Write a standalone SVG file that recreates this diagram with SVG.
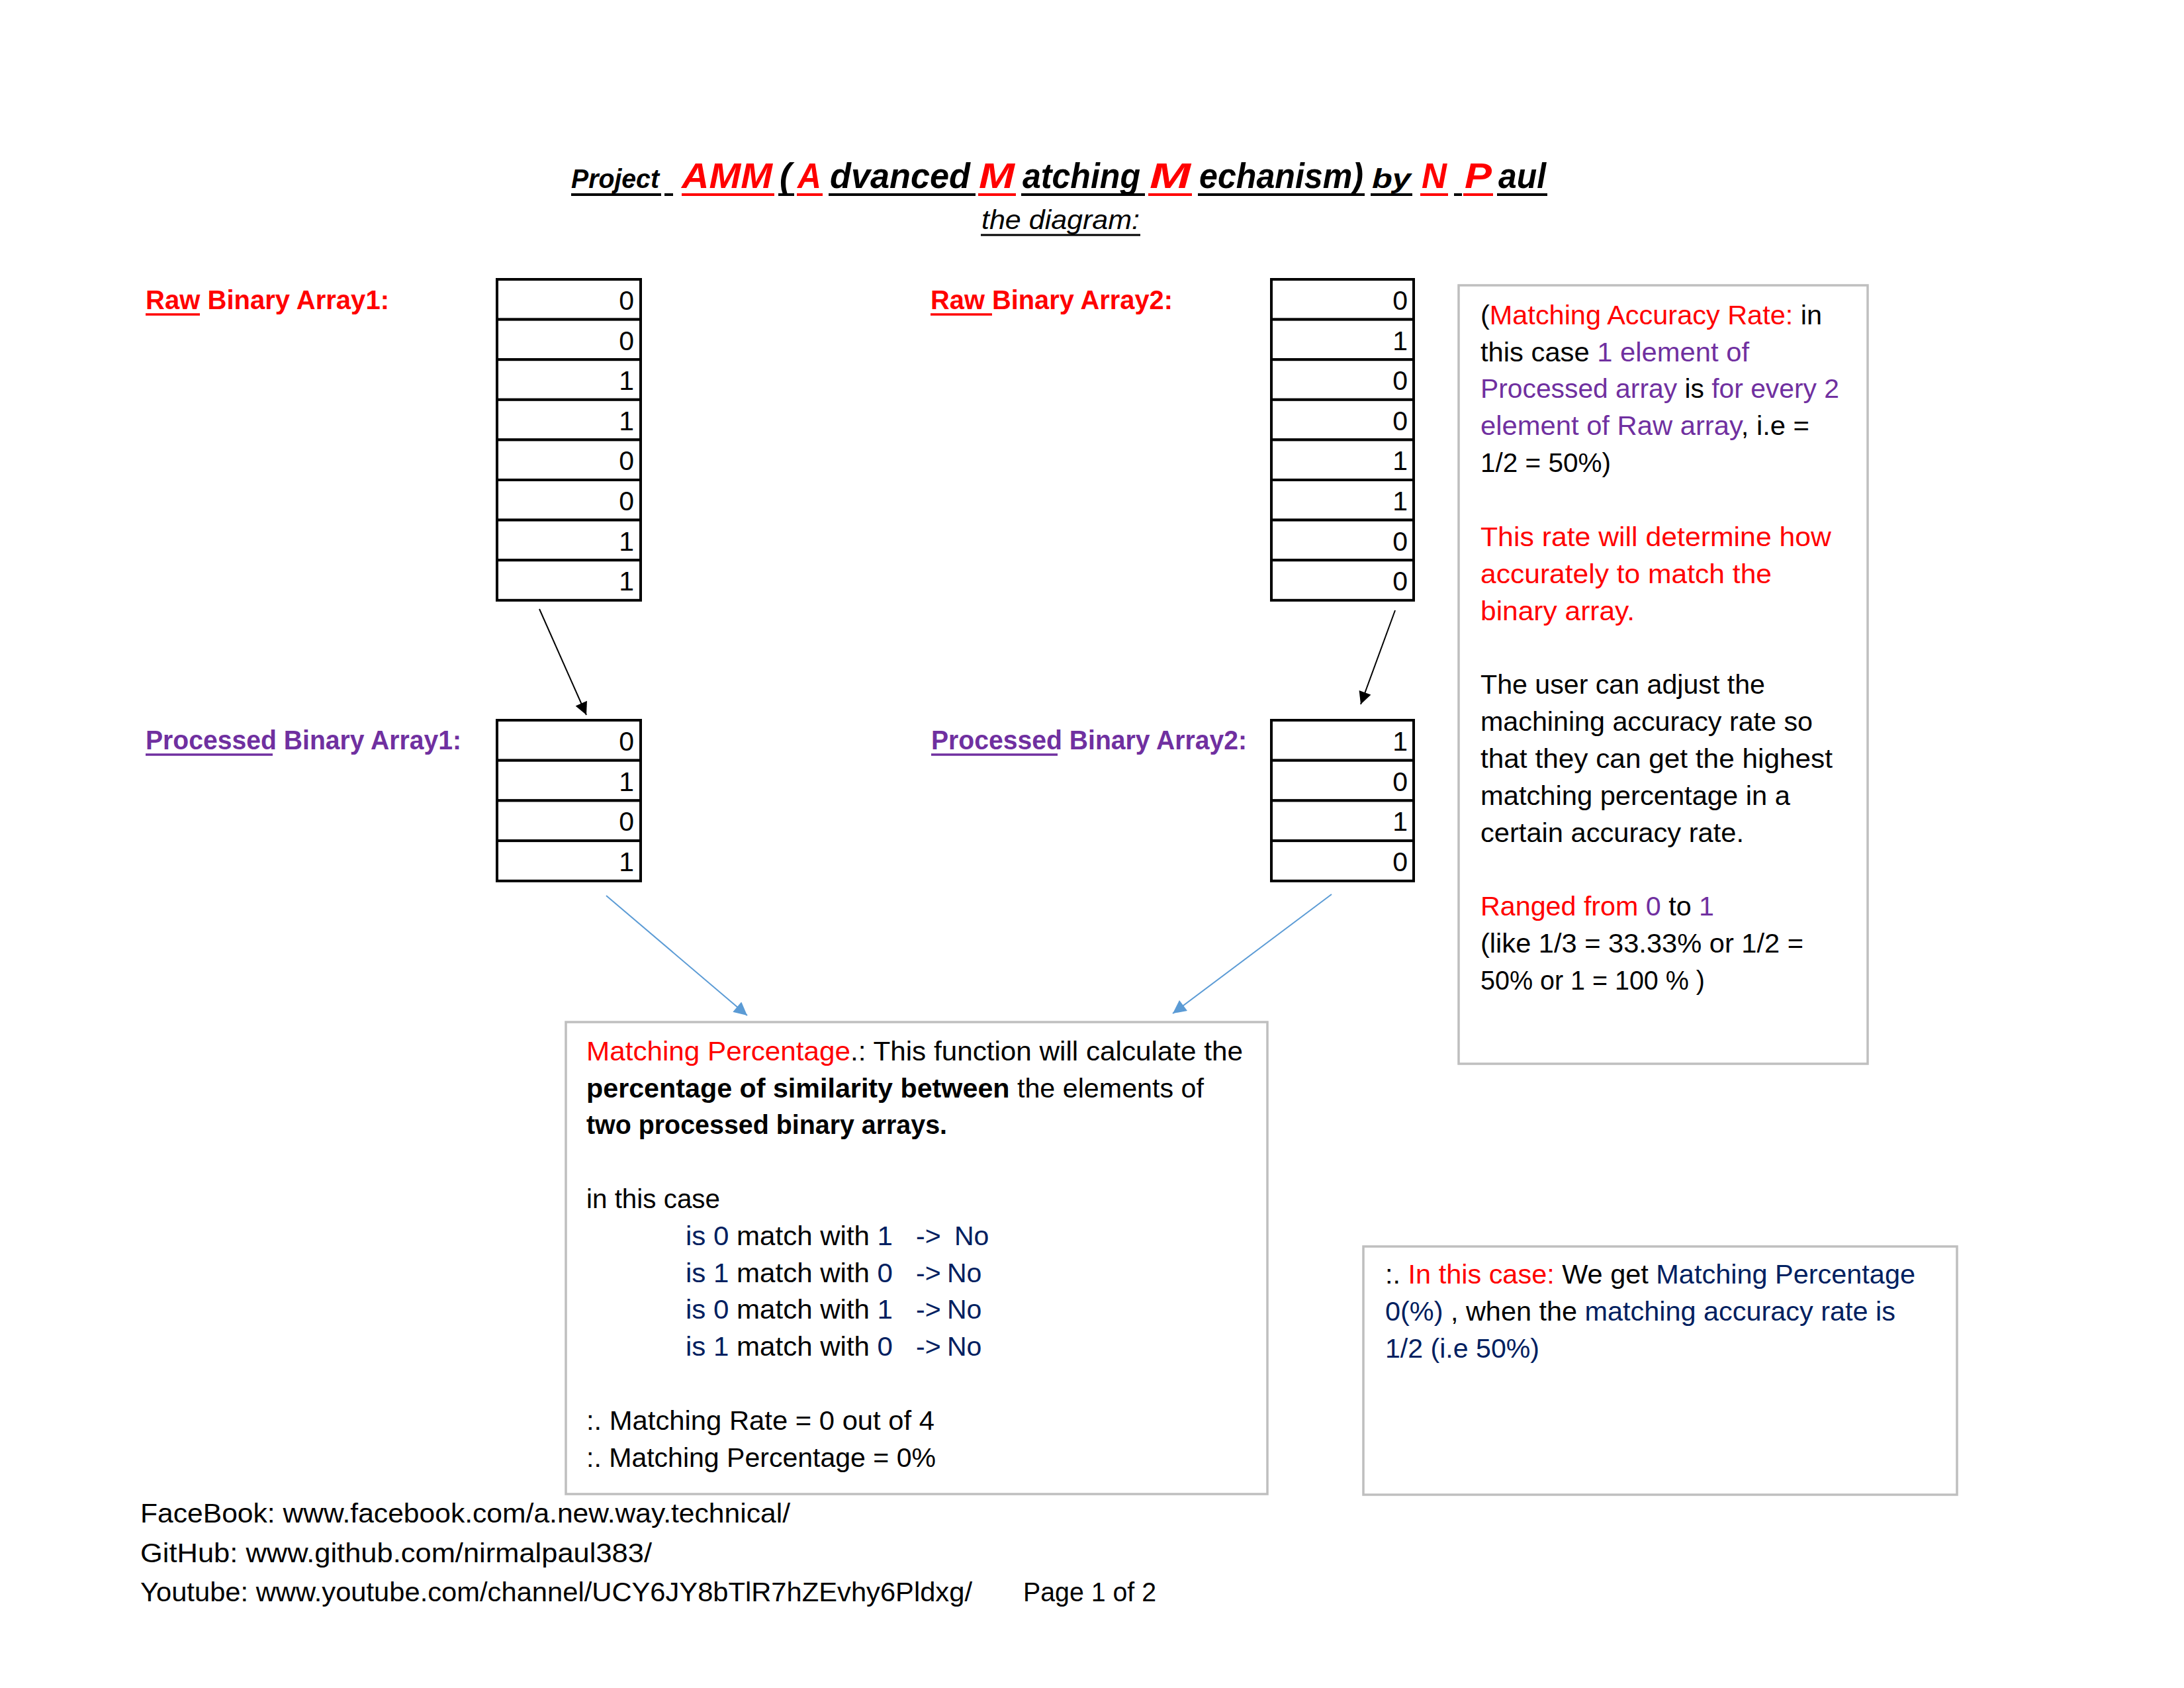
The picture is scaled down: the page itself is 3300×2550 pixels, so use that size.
<svg xmlns="http://www.w3.org/2000/svg" width="3300" height="2550" viewBox="0 0 3300 2550">
<defs>
<style>
text{font-family:"Liberation Sans",Arial,sans-serif;font-size:41px;fill:#000}
.tb{font-size:53px;font-weight:bold;font-style:italic}
.ts{font-size:41px;font-weight:bold;font-style:italic}
.b{font-weight:bold}
.red{fill:#FF0000}
.pur{fill:#7030A0}
.dk{fill:#002060}
.cell{fill:#fff;stroke:#000;stroke-width:4}
.num{text-anchor:end}
.gbox{fill:#fff;stroke:#BFBFBF;stroke-width:3.5}
.ul{stroke-width:4}
.conn{fill:none;stroke-width:2}
</style>
<marker id="ahk" viewBox="0 0 10 10" refX="10" refY="5" markerWidth="26" markerHeight="19" markerUnits="userSpaceOnUse" orient="auto"><path d="M0,0 L10,5 L0,10 z" fill="#000"/></marker>
<marker id="ahb" viewBox="0 0 10 10" refX="10" refY="5" markerWidth="24" markerHeight="20" markerUnits="userSpaceOnUse" orient="auto"><path d="M0,0 L10,5 L0,10 z" fill="#5B9BD5"/></marker>
</defs>
<rect width="3300" height="2550" fill="#fff"/>

<g id="title">
<text class="ts" x="863" y="284" textLength="133" lengthAdjust="spacingAndGlyphs">Project</text>
<text class="tb red" x="1030" y="284" textLength="137" lengthAdjust="spacingAndGlyphs">AMM</text>
<text class="tb" x="1178" y="284">(</text>
<text class="tb red" x="1205" y="284" textLength="36" lengthAdjust="spacingAndGlyphs">A</text>
<text class="tb" x="1254" y="284" textLength="212" lengthAdjust="spacingAndGlyphs">dvanced</text>
<text class="tb red" x="1479" y="284" textLength="54" lengthAdjust="spacingAndGlyphs">M</text>
<text class="tb" x="1545" y="284" textLength="178" lengthAdjust="spacingAndGlyphs">atching</text>
<text class="tb red" x="1737" y="284" textLength="62" lengthAdjust="spacingAndGlyphs">M</text>
<text class="tb" x="1812" y="284" textLength="248" lengthAdjust="spacingAndGlyphs">echanism)</text>
<text class="ts" x="2073" y="284" textLength="59" lengthAdjust="spacingAndGlyphs">by</text>
<text class="tb red" x="2148" y="284" textLength="38" lengthAdjust="spacingAndGlyphs">N</text>
<text class="tb red" x="2213" y="284" textLength="41" lengthAdjust="spacingAndGlyphs">P</text>
<text class="tb" x="2264" y="284" textLength="72" lengthAdjust="spacingAndGlyphs">aul</text>
<g class="ul">
<line x1="863" y1="294" x2="999" y2="294" stroke="#000"/>
<line x1="1004" y1="294" x2="1017" y2="294" stroke="#000"/>
<line x1="1030" y1="294" x2="1170" y2="294" stroke="#FF0000"/>
<line x1="1176" y1="294" x2="1200" y2="294" stroke="#000"/>
<line x1="1204" y1="294" x2="1243" y2="294" stroke="#FF0000"/>
<line x1="1252" y1="294" x2="1474" y2="294" stroke="#000"/>
<line x1="1478" y1="294" x2="1535" y2="294" stroke="#FF0000"/>
<line x1="1543" y1="294" x2="1730" y2="294" stroke="#000"/>
<line x1="1735" y1="294" x2="1801" y2="294" stroke="#FF0000"/>
<line x1="1810" y1="294" x2="2062" y2="294" stroke="#000"/>
<line x1="2071" y1="294" x2="2134" y2="294" stroke="#000"/>
<line x1="2146" y1="294" x2="2188" y2="294" stroke="#FF0000"/>
<line x1="2197" y1="294" x2="2209" y2="294" stroke="#000"/>
<line x1="2211" y1="294" x2="2256" y2="294" stroke="#FF0000"/>
<line x1="2262" y1="294" x2="2338" y2="294" stroke="#000"/>
</g>
</g>

<g id="subtitle">
<text x="1483" y="346" style="font-style:italic" textLength="239" lengthAdjust="spacingAndGlyphs">the diagram:</text>
<line x1="1482" y1="355" x2="1723" y2="355" stroke="#000" stroke-width="3"/>
</g>

<g id="raw1">
<text class="b red" x="220" y="467" textLength="368" lengthAdjust="spacingAndGlyphs">Raw Binary Array1:</text>
<line x1="220" y1="475" x2="302" y2="475" stroke="#FF0000" stroke-width="3.5"/>
<rect class="cell" x="751" y="422" width="217" height="60.6"/>
<rect class="cell" x="751" y="482.6" width="217" height="60.6"/>
<rect class="cell" x="751" y="543.2" width="217" height="60.6"/>
<rect class="cell" x="751" y="603.8" width="217" height="60.6"/>
<rect class="cell" x="751" y="664.4" width="217" height="60.6"/>
<rect class="cell" x="751" y="725" width="217" height="60.6"/>
<rect class="cell" x="751" y="785.6" width="217" height="60.6"/>
<rect class="cell" x="751" y="846.2" width="217" height="60.6"/>
<text class="num" x="958" y="468">0</text>
<text class="num" x="958" y="528.6">0</text>
<text class="num" x="958" y="589.2">1</text>
<text class="num" x="958" y="649.8">1</text>
<text class="num" x="958" y="710.4">0</text>
<text class="num" x="958" y="771">0</text>
<text class="num" x="958" y="831.6">1</text>
<text class="num" x="958" y="892.2">1</text>
</g>

<g id="raw2">
<text class="b red" x="1406" y="467" textLength="366" lengthAdjust="spacingAndGlyphs">Raw Binary Array2:</text>
<line x1="1406" y1="475" x2="1499" y2="475" stroke="#FF0000" stroke-width="3.5"/>
<rect class="cell" x="1921" y="422" width="215" height="60.6"/>
<rect class="cell" x="1921" y="482.6" width="215" height="60.6"/>
<rect class="cell" x="1921" y="543.2" width="215" height="60.6"/>
<rect class="cell" x="1921" y="603.8" width="215" height="60.6"/>
<rect class="cell" x="1921" y="664.4" width="215" height="60.6"/>
<rect class="cell" x="1921" y="725" width="215" height="60.6"/>
<rect class="cell" x="1921" y="785.6" width="215" height="60.6"/>
<rect class="cell" x="1921" y="846.2" width="215" height="60.6"/>
<text class="num" x="2127" y="468">0</text>
<text class="num" x="2127" y="528.6">1</text>
<text class="num" x="2127" y="589.2">0</text>
<text class="num" x="2127" y="649.8">0</text>
<text class="num" x="2127" y="710.4">1</text>
<text class="num" x="2127" y="771">1</text>
<text class="num" x="2127" y="831.6">0</text>
<text class="num" x="2127" y="892.2">0</text>
</g>

<g id="proc1">
<text class="b pur" x="220" y="1132" textLength="477" lengthAdjust="spacingAndGlyphs">Processed Binary Array1:</text>
<line x1="220" y1="1140" x2="412" y2="1140" stroke="#7030A0" stroke-width="3.5"/>
<rect class="cell" x="751" y="1088" width="217" height="60.7"/>
<rect class="cell" x="751" y="1148.7" width="217" height="60.7"/>
<rect class="cell" x="751" y="1209.4" width="217" height="60.7"/>
<rect class="cell" x="751" y="1270.1" width="217" height="60.7"/>
<text class="num" x="958" y="1134">0</text>
<text class="num" x="958" y="1194.7">1</text>
<text class="num" x="958" y="1255.4">0</text>
<text class="num" x="958" y="1316.1">1</text>
</g>

<g id="proc2">
<text class="b pur" x="1407" y="1132" textLength="477" lengthAdjust="spacingAndGlyphs">Processed Binary Array2:</text>
<line x1="1407" y1="1140" x2="1598" y2="1140" stroke="#7030A0" stroke-width="3.5"/>
<rect class="cell" x="1921" y="1088" width="215" height="60.7"/>
<rect class="cell" x="1921" y="1148.7" width="215" height="60.7"/>
<rect class="cell" x="1921" y="1209.4" width="215" height="60.7"/>
<rect class="cell" x="1921" y="1270.1" width="215" height="60.7"/>
<text class="num" x="2127" y="1134">1</text>
<text class="num" x="2127" y="1194.7">0</text>
<text class="num" x="2127" y="1255.4">1</text>
<text class="num" x="2127" y="1316.1">0</text>
</g>

<g id="rate-box">
<rect class="gbox" x="2204" y="431" width="618" height="1176"/>
<text x="2237" y="490" textLength="516" lengthAdjust="spacingAndGlyphs">(<tspan class="red">Matching Accuracy Rate:</tspan> in</text>
<text x="2237" y="546" textLength="406" lengthAdjust="spacingAndGlyphs">this case <tspan class="pur">1 element of</tspan></text>
<text x="2237" y="601" textLength="542" lengthAdjust="spacingAndGlyphs"><tspan class="pur">Processed array</tspan> is <tspan class="pur">for every 2</tspan></text>
<text x="2237" y="657" textLength="497" lengthAdjust="spacingAndGlyphs"><tspan class="pur">element of Raw array</tspan>, i.e =</text>
<text x="2237" y="713" textLength="197" lengthAdjust="spacingAndGlyphs">1/2 = 50%)</text>
<text class="red" x="2237" y="825" textLength="530" lengthAdjust="spacingAndGlyphs">This rate will determine how</text>
<text class="red" x="2237" y="881" textLength="440" lengthAdjust="spacingAndGlyphs">accurately to match the</text>
<text class="red" x="2237" y="937" textLength="233" lengthAdjust="spacingAndGlyphs">binary array.</text>
<text x="2237" y="1048" textLength="430" lengthAdjust="spacingAndGlyphs">The user can adjust the</text>
<text x="2237" y="1104" textLength="502" lengthAdjust="spacingAndGlyphs">machining accuracy rate so</text>
<text x="2237" y="1160" textLength="532" lengthAdjust="spacingAndGlyphs">that they can get the highest</text>
<text x="2237" y="1216" textLength="468" lengthAdjust="spacingAndGlyphs">matching percentage in a</text>
<text x="2237" y="1272" textLength="398" lengthAdjust="spacingAndGlyphs">certain accuracy rate.</text>
<text x="2237" y="1383" textLength="353" lengthAdjust="spacingAndGlyphs"><tspan class="red">Ranged from </tspan><tspan class="pur">0</tspan> to <tspan class="pur">1</tspan></text>
<text x="2237" y="1439" textLength="488" lengthAdjust="spacingAndGlyphs">(like 1/3 = 33.33% or 1/2 =</text>
<text x="2237" y="1495" textLength="339" lengthAdjust="spacingAndGlyphs">50% or 1 = 100 % )</text>
</g>

<g id="match-box">
<rect class="gbox" x="855" y="1544" width="1060" height="713"/>
<text x="886" y="1602" textLength="992" lengthAdjust="spacingAndGlyphs"><tspan class="red">Matching Percentage</tspan>.: This function will calculate the</text>
<text x="886" y="1658" textLength="933" lengthAdjust="spacingAndGlyphs"><tspan class="b">percentage of similarity between</tspan> the elements of</text>
<text x="886" y="1713" textLength="545" lengthAdjust="spacingAndGlyphs"><tspan class="b">two processed binary arrays.</tspan></text>
<text x="886" y="1825" textLength="202" lengthAdjust="spacingAndGlyphs">in this case</text>
<text x="1036" y="1881" textLength="313" lengthAdjust="spacingAndGlyphs"><tspan class="dk">is 0</tspan> match with <tspan class="dk">1</tspan></text>
<text class="dk" x="1384" y="1881">-&gt;</text>
<text class="dk" x="1442" y="1881">No</text>
<text x="1036" y="1937" textLength="313" lengthAdjust="spacingAndGlyphs"><tspan class="dk">is 1</tspan> match with <tspan class="dk">0</tspan></text>
<text class="dk" x="1384" y="1937">-&gt;</text>
<text class="dk" x="1431" y="1937">No</text>
<text x="1036" y="1992" textLength="313" lengthAdjust="spacingAndGlyphs"><tspan class="dk">is 0</tspan> match with <tspan class="dk">1</tspan></text>
<text class="dk" x="1384" y="1992">-&gt;</text>
<text class="dk" x="1431" y="1992">No</text>
<text x="1036" y="2048" textLength="313" lengthAdjust="spacingAndGlyphs"><tspan class="dk">is 1</tspan> match with <tspan class="dk">0</tspan></text>
<text class="dk" x="1384" y="2048">-&gt;</text>
<text class="dk" x="1431" y="2048">No</text>
<text x="886" y="2160" textLength="526" lengthAdjust="spacingAndGlyphs">:. Matching Rate = 0 out of 4</text>
<text x="886" y="2216" textLength="528" lengthAdjust="spacingAndGlyphs">:. Matching Percentage = 0%</text>
</g>

<g id="result-box">
<rect class="gbox" x="2060" y="1883" width="897" height="375"/>
<text x="2093" y="1939" textLength="801" lengthAdjust="spacingAndGlyphs">:. <tspan class="red">In this case:</tspan> We get <tspan class="dk">Matching Percentage</tspan></text>
<text x="2093" y="1995" textLength="771" lengthAdjust="spacingAndGlyphs"><tspan class="dk">0(%)</tspan> , when the <tspan class="dk">matching accuracy rate is</tspan></text>
<text class="dk" x="2093" y="2051" textLength="233" lengthAdjust="spacingAndGlyphs">1/2 (i.e 50%)</text>
</g>

<g id="footer">
<text x="212" y="2300" textLength="982" lengthAdjust="spacingAndGlyphs">FaceBook: www.facebook.com/a.new.way.technical/</text>
<text x="212" y="2360" textLength="773" lengthAdjust="spacingAndGlyphs">GitHub: www.github.com/nirmalpaul383/</text>
<text x="212" y="2419" textLength="1257" lengthAdjust="spacingAndGlyphs">Youtube: www.youtube.com/channel/UCY6JY8bTlR7hZEvhy6Pldxg/</text>
<text x="1546" y="2419" textLength="201" lengthAdjust="spacingAndGlyphs">Page 1 of 2</text>
</g>

<g id="connectors">
<line class="conn" x1="815" y1="920" x2="886" y2="1080" stroke="#000" marker-end="url(#ahk)"/>
<line class="conn" x1="2108" y1="922" x2="2056" y2="1064" stroke="#000" marker-end="url(#ahk)"/>
<line class="conn" x1="916" y1="1353" x2="1129" y2="1534" stroke="#5B9BD5" marker-end="url(#ahb)"/>
<line class="conn" x1="2012" y1="1351" x2="1772" y2="1531" stroke="#5B9BD5" marker-end="url(#ahb)"/>
</g>
</svg>
